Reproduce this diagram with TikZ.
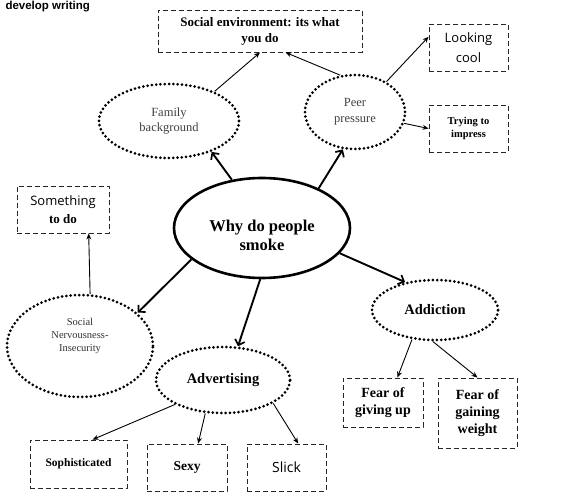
\documentclass[tikz,border=0pt]{standalone}
\usepackage{fontspec}
\setmainfont{Liberation Serif}
\newfontfamily\handfont{Open Sans}
\newfontfamily\headfont{Liberation Sans}
\usetikzlibrary{arrows.meta,shapes.geometric}

\begin{document}
\begin{tikzpicture}[x=1pt,y=-1pt,line join=round,
  bubble/.style={ellipse,draw,line width=3pt,dash pattern=on 0pt off 4.3pt,line cap=round,inner sep=0pt,align=center},
  hub/.style={ellipse,draw,line width=2.6pt,inner sep=0pt,align=center},
  card/.style={rectangle,draw,draw=black!85,line width=0.9pt,dash pattern=on 5pt off 3pt,inner sep=2pt,align=center},
  bold/.style={line width=1.9pt,-{Straight Barb[length=5pt,width=10pt,line width=1.7pt]}},
  slim/.style={line width=0.9pt,-{Stealth[length=6pt,width=5pt]}}]
\useasboundingbox (0,0) rectangle (563,494);
\node[anchor=base west,font=\headfont\bfseries\fontsize{11.5}{13}\selectfont] (title) at (2,10) {develop writing};
% --- centre and first ring
\node[hub,minimum width=176,minimum height=100,font=\bfseries\fontsize{16.5}{19}\selectfont] (why) at (262,228) {\raisebox{-9pt}[\height][\depth]{\begin{tabular}{@{}c@{}}Why do people\\smoke\end{tabular}}};
\node[bubble,minimum width=140,minimum height=74,text=black!75,font=\fontsize{12.5}{15}\selectfont] (family) at (169,121) {Family\\background};
\node[bubble,minimum width=100,minimum height=74,text=black!75,font=\fontsize{12.5}{16}\selectfont] (peer) at (355,112) {Peer\\pressure};
\node[bubble,minimum width=146,minimum height=102,text=black!80,font=\fontsize{10.5}{13}\selectfont] (nerv) at (80,346) {\raisebox{10pt}[\height][\depth]{\begin{tabular}{@{}c@{}}Social\\Nervousness-\\Insecurity\end{tabular}}};
\node[bubble,minimum width=134,minimum height=66,font=\bfseries\fontsize{14.5}{17}\selectfont] (adv) at (223,380) {Advertising};
\node[bubble,minimum width=126,minimum height=60,font=\bfseries\fontsize{14.5}{17}\selectfont] (addiction) at (435,310) {Addiction};
% --- outer boxes
\node[card,minimum width=204,minimum height=42,font=\bfseries\fontsize{13}{16}\selectfont] (socenv) at (260,31) {Social environment: its what\\you do};
\node[card,minimum width=79,minimum height=47,font=\handfont\fontsize{13}{20}\selectfont] (looking) at (468.5,47.5) {Looking\\cool};
\node[card,minimum width=79,minimum height=47,font=\bfseries\fontsize{10.5}{12.5}\selectfont] (trying) at (468.5,128.5) {Trying to\\impress};
\node[card,minimum width=92,minimum height=47,font=\fontsize{13}{18}\selectfont] (something) at (63,209.5) {{\handfont Something}\\\textbf{to do}};
\node[card,minimum width=80,minimum height=49,font=\bfseries\fontsize{14}{17}\selectfont] (giveup) at (383,402.5) {Fear of\\giving up};
\node[card,minimum width=79,minimum height=70,font=\bfseries\fontsize{14}{17}\selectfont] (gainweight) at (477.5,413) {Fear of\\gaining\\weight};
\node[card,minimum width=97,minimum height=48,font=\bfseries\fontsize{11.5}{14}\selectfont] (soph) at (78.5,464) {Sophisticated};
\node[card,minimum width=80,minimum height=47,font=\bfseries\fontsize{13.5}{16}\selectfont] (sexy) at (187,467.5) {Sexy};
\node[card,minimum width=79,minimum height=47,font=\handfont\fontsize{14}{17}\selectfont] (slick) at (286.5,467.5) {Slick};
% --- arrows from the centre
\draw[bold] (why.122) -- (family.-36);
\draw[bold] (why.35) -- (peer.-108);
\draw[bold] (why.-156) -- (nerv.30);
\draw[bold] (why.-92) -- (adv.66);
\draw[bold] (why.-18) -- (addiction.137);
% --- arrows to the boxes
\draw[slim] (family.33) -- (socenv.-90);
\draw[slim] (peer.112) -- (socenv.-40);
\draw[slim] (peer.44) -- (looking.165);
\draw[slim] (peer.-13) -- (trying.west);
\draw[slim] (nerv.79) -- (something.-43);
\draw[slim] (addiction.-128) -- (giveup.60);
\draw[slim] (addiction.-94) -- (gainweight.north);
\draw[slim] (adv.-153) -- (soph.60);
\draw[slim] (adv.-118) -- (sexy.65);
\draw[slim] (adv.-25) -- (slick.64);
\end{tikzpicture}
\end{document}
